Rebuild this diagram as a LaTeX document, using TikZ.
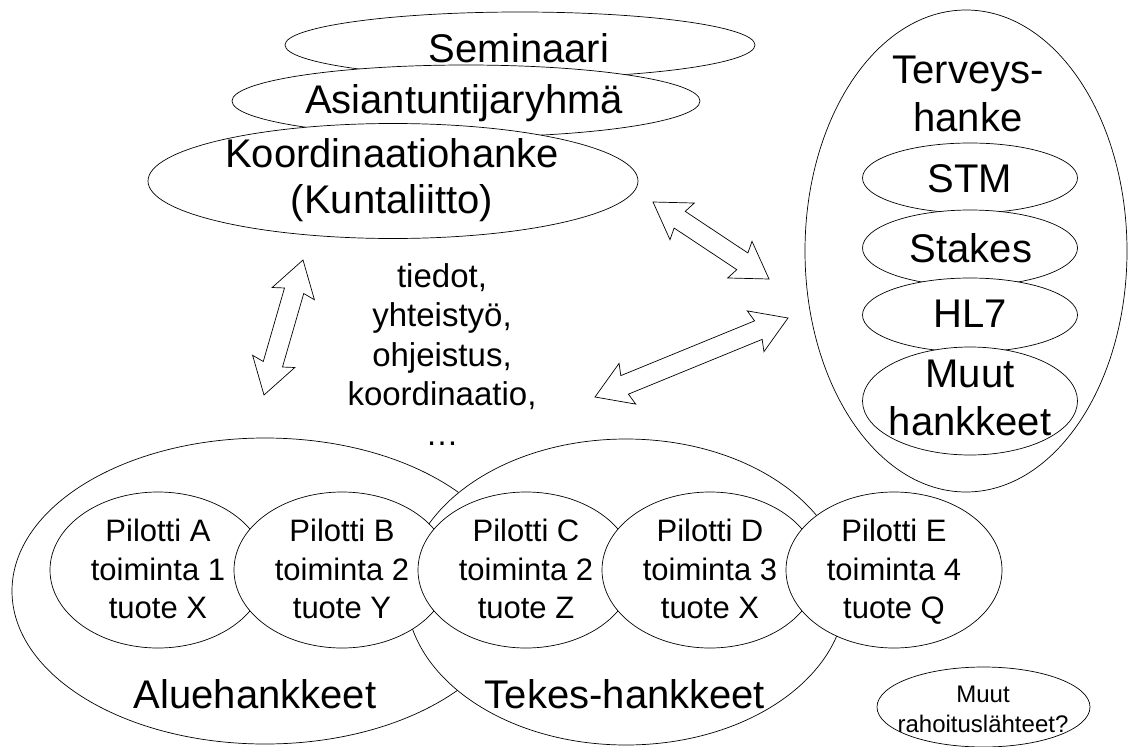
\documentclass[tikz,border=0pt]{standalone}
\usepackage{fontspec}
\setmainfont{Liberation Sans}
\usetikzlibrary{shapes.geometric,calc}

\newcommand{\hollowarrow}[2]{%
  \draw[fill=white,line width=0.7pt,line join=miter] (#1)
    -- ($(#1)!35pt!(#2)!22pt!90:(#2)$)
    -- ($(#1)!32pt!(#2)!10pt!90:(#2)$)
    -- ($(#2)!32pt!(#1)!10pt!-90:(#1)$)
    -- ($(#2)!35pt!(#1)!22pt!-90:(#1)$)
    -- (#2)
    -- ($(#2)!35pt!(#1)!22pt!90:(#1)$)
    -- ($(#2)!32pt!(#1)!10pt!90:(#1)$)
    -- ($(#1)!32pt!(#2)!10pt!-90:(#2)$)
    -- ($(#1)!35pt!(#2)!22pt!-90:(#2)$)
    -- cycle;}

\begin{document}
\begin{tikzpicture}[x=1pt,y=-1pt,
  blob/.style={ellipse,draw,fill=white,line width=0.7pt,inner sep=0pt},
  big/.style={font=\fontsize{40}{47}\selectfont,align=center,inner sep=0pt,anchor=base},
  pil/.style={font=\fontsize{31}{38.3}\selectfont,align=center,inner sep=0pt,anchor=base},
  info/.style={font=\fontsize{33}{39.5}\selectfont,align=center,inner sep=0pt,anchor=base},
  small/.style={font=\fontsize{24}{30}\selectfont,align=center,inner sep=0pt,anchor=base}
]
\useasboundingbox (0,0) rectangle (1128,747);

\node[blob,minimum width=470pt,minimum height=66pt] (sem) at (520,45) {};
\node[big] (semtxt) at (519,62) {Seminaari};
\node[blob,minimum width=468pt,minimum height=72pt] (asi) at (466,101) {};
\node[big] (asitxt) at (464,113) {Asiantuntijaryhmä};
\node[blob,minimum width=490pt,minimum height=115pt] (koord) at (393,181) {};
\node[big,font=\fontsize{40}{46}\selectfont] (koordtxt) at (392,213) {Koordinaatiohanke\\(Kuntaliitto)};

\node[blob,minimum width=322pt,minimum height=482pt] (terv) at (966,251) {};
\node[big,font=\fontsize{40}{48}\selectfont] (tervtxt) at (968,131) {Terveys-\\hanke};
\node[blob,minimum width=215pt,minimum height=70pt] (stm) at (970,178) {};
\node[big] (stmtxt) at (970,192) {STM};
\node[blob,minimum width=215pt,minimum height=76pt] (stakes) at (970,248) {};
\node[big] (stakestxt) at (971,262) {Stakes};
\node[blob,minimum width=215pt,minimum height=74pt] (hl) at (970,315) {};
\node[big] (hltxt) at (970,327) {HL7};
\node[blob,minimum width=215pt,minimum height=108pt] (muut) at (970,401) {};
\node[big,font=\fontsize{40}{48}\selectfont] (muuttxt) at (970,435) {Muut\\hankkeet};

\node[info] (infotxt) at (442,445) {tiedot,\\yhteistyö,\\ohjeistus,\\koordinaatio,\\…};

\node[blob,minimum width=506pt,minimum height=306pt] (alue) at (265,591) {};
\node[blob,minimum width=440pt,minimum height=306pt] (tekes) at (626,592) {};
\node[big] (aluetxt) at (255,708) {Aluehankkeet};
\node[big] (tekestxt) at (625,708) {Tekes-hankkeet};
\foreach \i/\p/\t/\q in {0/A/1/X,1/B/2/Y,2/C/2/Z,3/D/3/X,4/E/4/Q} {
  \node[blob,minimum width=216pt,minimum height=156pt] (pil\p) at (158+184*\i,570) {};
  \node[pil] (pil\p txt) at (158+184*\i,618.3) {Pilotti \p\\toiminta \t\\tuote \q};
}

\node[blob,minimum width=213pt,minimum height=80pt] (rah) at (983.5,707) {};
\node[small] (rahtxt) at (983,732) {Muut\\rahoituslähteet?};

\coordinate (a1) at (303,260);
\coordinate (b1) at (264,395);
\coordinate (a2) at (653,202);
\coordinate (b2) at (769,279);
\coordinate (a3) at (595,397);
\coordinate (b3) at (788,318);
\hollowarrow{a1}{b1}
\hollowarrow{a2}{b2}
\hollowarrow{a3}{b3}
\end{tikzpicture}
\end{document}
